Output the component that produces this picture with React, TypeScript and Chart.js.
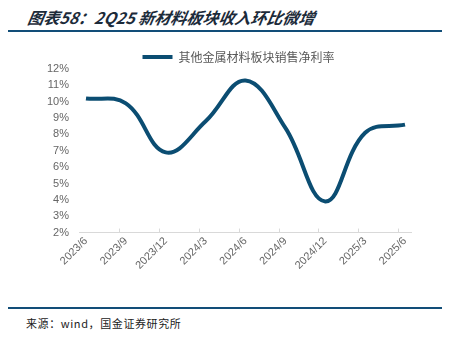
import React, { useEffect, useRef } from "react";
import { Chart, registerables } from "chart.js";

Chart.register(...registerables);

const categories = ["2023/6", "2023/9", "2023/12", "2024/3", "2024/6", "2024/9", "2024/12", "2025/3", "2025/6"];
const netMargin = [10.2, 9.9, 6.9, 8.8, 11.3, 8.4, 3.9, 8.1, 8.6];
const seriesName = "其他金属材料板块销售净利率";
const yTicks = [2, 3, 4, 5, 6, 7, 8, 9, 10, 11, 12];

const tickMarks = {
  id: "tickMarks",
  afterLayout(chart: any) {
    const lg = chart.legend;
    if (lg) {
      lg.left += 33;
      lg.right += 33;
      lg.top += 4;
      lg.bottom += 4;
    }
  },
  afterDraw(chart: any) {
    const x = chart.scales.x;
    const ctx = chart.ctx;
    const bottom = chart.chartArea.bottom;
    ctx.save();
    ctx.strokeStyle = "#d9d9d9";
    ctx.lineWidth = 1;
    for (let i = 0; i < categories.length - 1; i++) {
      const px = Math.round(x.getPixelForValue(i + 0.83)) + 0.5;
      ctx.beginPath();
      ctx.moveTo(px, bottom);
      ctx.lineTo(px, bottom - 4);
      ctx.stroke();
    }
    ctx.restore();
  },
};

export default function App() {
  const ref = useRef<HTMLCanvasElement>(null);
  useEffect(() => {
    const chart = new Chart(ref.current!, {
      type: "line",
      data: {
        datasets: [
          {
            label: seriesName,
            data: netMargin.map((v, i) => ({ x: i, y: v })),
            borderColor: "#0b4d72",
            backgroundColor: "#0b4d72",
            borderWidth: 4,
            pointRadius: 0,
            tension: 0.4,
          },
        ],
      },
      plugins: [tickMarks],
      options: {
        animation: false,
        responsive: false,
        maintainAspectRatio: false,
        layout: { padding: { top: 1, right: 39, bottom: 20, left: 0 } },
        plugins: {
          legend: {
            display: true,
            labels: {
              boxWidth: 30,
              boxHeight: 4,
              color: "#595959",
              font: { family: "'Noto Sans CJK SC', 'Noto Sans', sans-serif", size: 12 },
              padding: 2,
              generateLabels: (chart: any) => {
                const items = Chart.defaults.plugins.legend.labels.generateLabels(chart);
                items.forEach((it: any) => {
                  it.lineWidth = 0;
                  it.strokeStyle = "rgba(0,0,0,0)";
                });
                return items;
              },
            },
          },
          tooltip: { enabled: false },
        },
        scales: {
          x: {
            type: "linear",
            min: -0.175,
            max: 8.15,
            afterBuildTicks: (scale: any) => {
              scale.ticks = categories.map((_, i) => ({ value: i }));
            },
            ticks: {
              callback: (v: any) => categories[v as number] ?? "",
              color: "#666666",
              font: { family: "'Liberation Sans', Arial, sans-serif", size: 11 },
              minRotation: 45,
              maxRotation: 45,
              padding: 2,
            },
            grid: { display: false, drawTicks: false },
            border: { display: true, color: "#d9d9d9", width: 1 },
          },
          y: {
            min: 2,
            max: 12,
            afterBuildTicks: (scale: any) => {
              scale.ticks = yTicks.map((v) => ({ value: v }));
            },
            afterFit: (scale: any) => {
              scale.width = 79;
            },
            ticks: {
              autoSkip: false,
              callback: (v: any) => v + "%",
              color: "#666666",
              font: { family: "'Liberation Sans', Arial, sans-serif", size: 11 },
              padding: 10,
            },
            grid: { display: false, drawTicks: false },
            border: { display: false },
          },
        },
      },
    } as any);
    return () => chart.destroy();
  }, []);

  return (
    <div style={{ position: "relative", width: 450, height: 338, margin: -8, background: "#fff", overflow: "hidden" }}>
      <div
        style={{
          position: "absolute",
          left: 26,
          top: 6,
          fontFamily: "'Noto Sans CJK SC', sans-serif",
          fontStyle: "italic",
          fontWeight: 700,
          fontSize: 16,
          lineHeight: "22px",
          color: "#1c2b3a",
          whiteSpace: "nowrap",
          transform: "skewX(-10deg)",
          transformOrigin: "left bottom",
        }}
      >
        图表58：2Q25 新材料板块收入环比微增
      </div>
      <div style={{ position: "absolute", left: 0, top: 30, width: 450, height: 2, background: "#124e78" }} />
      <canvas ref={ref} width={450} height={250} style={{ position: "absolute", left: 0, top: 44, width: 450, height: 250 }} />
      <div style={{ position: "absolute", left: 0, top: 307, width: 450, height: 2, background: "#124e78" }} />
      <div
        style={{
          position: "absolute",
          left: 26,
          top: 315,
          fontFamily: "'Noto Sans CJK SC', sans-serif",
          fontSize: 11,
          letterSpacing: 0.6,
          color: "#222",
          whiteSpace: "nowrap",
        }}
      >
        来源：wind，国金证券研究所
      </div>
    </div>
  );
}
